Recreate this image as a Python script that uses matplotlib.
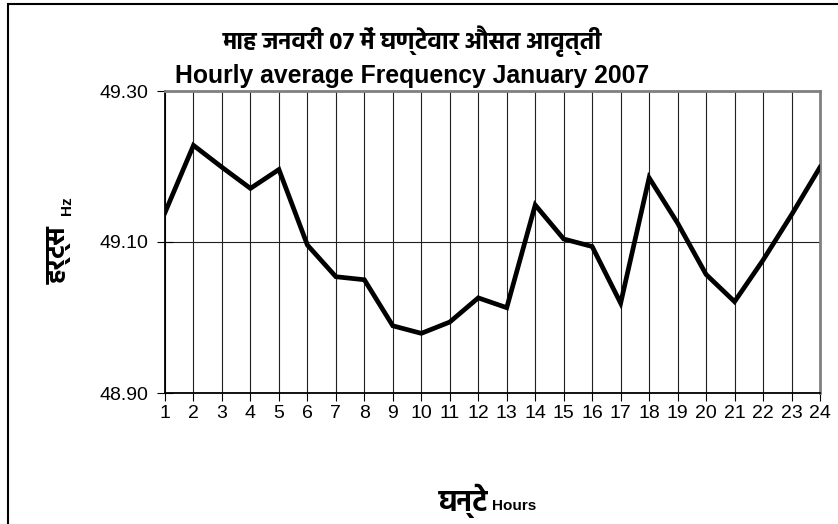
import matplotlib
matplotlib.use("Agg")
import matplotlib.pyplot as plt
from matplotlib import font_manager
from matplotlib.patches import Rectangle

hours = list(range(1, 25))
frequency = [49.139, 49.228, 49.199, 49.171, 49.196, 49.096, 49.054, 49.050,
             48.989, 48.979, 48.994, 49.026, 49.013, 49.149, 49.104, 49.094,
             49.019, 49.185, 49.125, 49.057, 49.021, 49.076, 49.136, 49.199]
y_ticks = [48.90, 49.10, 49.30]
y_tick_labels = ["48.90", "49.10", "49.30"]
title_hi = "माह जनवरी 07 में घण्टेवार औसत आवृत्ती"
title_en = "Hourly average Frequency January 2007"
xlabel_hi = "घन्टे"
xlabel_en = "Hours"
ylabel_hi = "हर्ट्स"
ylabel_en = "Hz"

bold_names = {fe.name for fe in font_manager.fontManager.ttflist
              if isinstance(fe.weight, int) and fe.weight >= 700}
all_names = {fe.name for fe in font_manager.fontManager.ttflist}
deva = None
for name in ["Hind", "Mukta", "Ek Mukta", "Noto Sans Devanagari", "Biryani", "FreeSans"]:
    if name in bold_names:
        deva = name
        break
if deva is None:
    for name in ["Noto Sans Devanagari", "Hind", "Mukta", "FreeSans"]:
        if name in all_names:
            deva = name
            break
deva_fams = ([deva] if deva else []) + ["Liberation Sans", "DejaVu Sans"]

plt.rcParams['font.family'] = ['Liberation Sans', 'DejaVu Sans']

W, H = 838, 524
fig = plt.figure(figsize=(W / 100, H / 100), dpi=100)
fig.patch.set_facecolor("white")

# outer chart frame (runs off right/bottom edges)
fig.patches.append(Rectangle((8 / W, -0.1), 1.2, 1.1 - 4 / H, transform=fig.transFigure,
                             fill=False, edgecolor="black", linewidth=1.5))

ax = fig.add_axes([165 / W, 1 - 393 / H, (820 - 165) / W, (393 - 91) / H])
ax.plot(hours, frequency, color="black", linewidth=3.4, solid_joinstyle="miter", zorder=3)
ax.set_xlim(1, 24)
ax.set_ylim(48.90, 49.30)
ax.set_xticks(hours)
ax.set_xticklabels([str(h) for h in hours], fontsize=14)
ax.set_yticks(y_ticks)
ax.set_yticklabels(y_tick_labels, fontsize=14)
ax.grid(True, axis="both", color="#202020", linewidth=0.8)
ax.tick_params(axis="y", direction="inout", length=12, width=0.8, pad=6)
ax.tick_params(axis="x", direction="out", length=6, width=0.8, pad=3)
for s in ["top", "right"]:
    ax.spines[s].set_color("#808080")
    ax.spines[s].set_linewidth(2)
for s in ["left", "bottom"]:
    ax.spines[s].set_color("black")
    ax.spines[s].set_linewidth(1.3)

fig.text(412 / W, 1 - 41 / H, title_hi, ha="center", va="center", fontsize=17.6,
         fontweight="bold", family=deva_fams)
fig.text(412 / W, 1 - 76 / H, title_en, ha="center", va="center", fontsize=17.8,
         fontweight="bold")

fig.text(488 / W, 1 - 511 / H, xlabel_hi, ha="right", va="baseline", fontsize=21,
         fontweight="bold", family=deva_fams)
fig.text(492 / W, 1 - 510 / H, xlabel_en, ha="left", va="baseline", fontsize=11,
         fontweight="bold")

fig.text(60 / W, 1 - 255 / H, ylabel_hi, ha="center", va="center", rotation=90,
         fontsize=19, fontweight="bold", family=deva_fams)
fig.text(67 / W, 1 - 206 / H, ylabel_en, ha="center", va="center", rotation=90,
         fontsize=11, fontweight="bold")

fig.savefig("out.png", dpi=100)
